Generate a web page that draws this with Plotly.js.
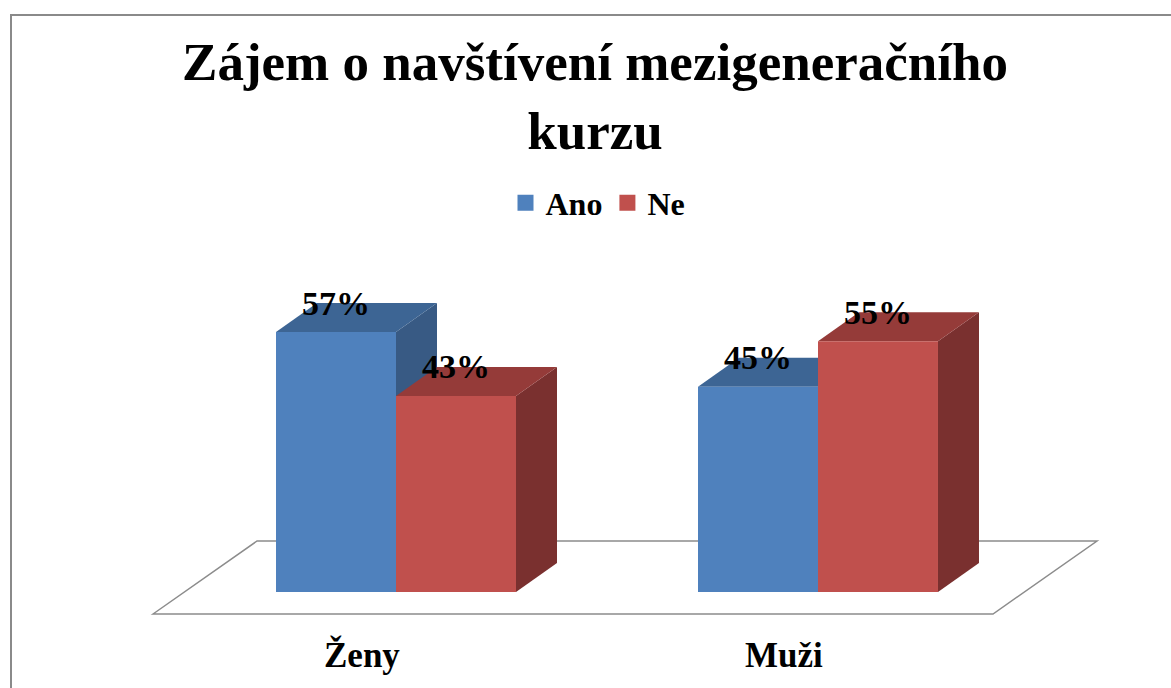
<!DOCTYPE html>
<html>
<head>
<meta charset="utf-8">
<script src="https://cdn.plot.ly/plotly-3.0.1.min.js"></script>
<style>html,body{margin:0;padding:0;background:#fff;}#chart{width:1171px;height:688px;}</style>
</head>
<body>
<div id="chart"></div>
<script>
// ---- data ----
const categories = ["Ženy", "Muži"];
const seriesNames = ["Ano", "Ne"];
const anoValues = [57, 45];
const neValues = [43, 55];
const chartTitle = "Zájem o navštívení mezigeneračního<br>kurzu";

// ---- styles ----
const frontColors = ["#4F81BD", "#C0504D"];
const topColors = ["#3D6594", "#953B39"];
const sideColors = ["#385A84", "#7A302F"];
const serif = "Liberation Serif, Times New Roman, serif";

const W = 1171, H = 688;
const xRange = [-0.9384, 1.8365];
const yRange = [-21.05, 129.82];
const pxX = W / (xRange[1] - xRange[0]);
const pxY = H / (yRange[1] - yRange[0]);
const bargap = 0.4313;
const barW = (1 - bargap) / 2;
// 3D depth in pixels converted to data units
const dX = 41 / pxX, dY = 29 / pxY;

const values = [anoValues, neValues];
const xs = categories.map((c, i) => i);

const traces = values.map((vals, s) => ({
  type: "bar",
  name: seriesNames[s],
  x: xs,
  y: vals,
  marker: {color: frontColors[s], line: {width: 0}},
  showlegend: false,
  hoverinfo: "skip"
}));
// legend entries (square markers)
seriesNames.forEach((n, s) => traces.push({
  type: "scatter", mode: "markers", name: n,
  x: [null], y: [null],
  marker: {symbol: "square", size: 17, color: frontColors[s]},
  showlegend: true
}));

const shapes = [];
// floor (decorative)
const floorFrontY = -22 / pxY, floorBackY = floorFrontY + 73 / pxY;
const floorX0 = xs[0] - barW - 123 / pxX;
const floorX1 = xs[xs.length - 1] + barW + 55 / pxX;
const fdx = 104 / pxX;
shapes.push({
  type: "path", xref: "x", yref: "y", layer: "below",
  path: `M${floorX0},${floorFrontY} L${floorX0 + fdx},${floorBackY} L${floorX1 + fdx},${floorBackY} L${floorX1},${floorFrontY} Z`,
  line: {color: "#8C8C8C", width: 1.5}, fillcolor: "#FFFFFF"
});
// 3D top and side faces for each bar, computed from data
xs.forEach((xc, i) => {
  values.forEach((vals, s) => {
    const v = vals[i];
    const xL = s === 0 ? xc - barW : xc;
    const xR = xL + barW;
    shapes.push({
      type: "path", xref: "x", yref: "y", layer: "below",
      path: `M${xR},0 L${xR + dX},${dY} L${xR + dX},${v + dY} L${xR},${v} Z`,
      line: {width: 0}, fillcolor: sideColors[s]
    });
    shapes.push({
      type: "path", xref: "x", yref: "y", layer: "below",
      path: `M${xL},${v} L${xL + dX},${v + dY} L${xR + dX},${v + dY} L${xR},${v} Z`,
      line: {width: 0}, fillcolor: topColors[s]
    });
  });
});
// chart border
shapes.push({
  type: "rect", xref: "paper", yref: "paper",
  x0: 11 / W, x1: 1.05, y0: -0.05, y1: 1 - 15 / H,
  line: {color: "#8A8A8A", width: 2}, fillcolor: "rgba(0,0,0,0)"
});

const annotations = [];
xs.forEach((xc, i) => {
  values.forEach((vals, s) => {
    const v = vals[i];
    const xCenter = s === 0 ? xc - barW / 2 : xc + barW / 2;
    annotations.push({
      x: xCenter, y: v + dY, xref: "x", yref: "y",
      text: v + "%", showarrow: false, xanchor: "center", yanchor: "middle",
      font: {family: serif, size: 34, weight: "bold", color: "#000"}
    });
  });
  annotations.push({
    x: xc, y: 1 - 655 / H, xref: "x", yref: "paper", xshift: -34,
    text: categories[i], showarrow: false, xanchor: "center", yanchor: "middle",
    font: {family: serif, size: 35, weight: "bold", color: "#000"}
  });
});

const layout = {
  width: W, height: H,
  margin: {l: 0, r: 0, t: 0, b: 0, pad: 0},
  paper_bgcolor: "#FFFFFF", plot_bgcolor: "rgba(0,0,0,0)",
  title: {
    text: chartTitle, xref: "paper", x: 595 / W, xanchor: "center",
    yref: "paper", y: 1 - 80 / H, yanchor: "middle",
    font: {family: serif, size: 53, weight: "bold", color: "#000"}
  },
  barmode: "group", bargap: bargap, bargroupgap: 0,
  xaxis: {range: xRange, visible: false, fixedrange: true},
  yaxis: {range: yRange, visible: false, fixedrange: true},
  showlegend: true,
  legend: {
    orientation: "h", x: 598 / W, xanchor: "center", y: 1 - 203 / H, yanchor: "middle",
    font: {family: serif, size: 32, weight: "bold", color: "#000"},
    bgcolor: "rgba(0,0,0,0)", itemclick: false, itemdoubleclick: false
  },
  shapes: shapes,
  annotations: annotations
};

Plotly.newPlot("chart", traces, layout, {displayModeBar: false, staticPlot: true});
</script>
</body>
</html>
